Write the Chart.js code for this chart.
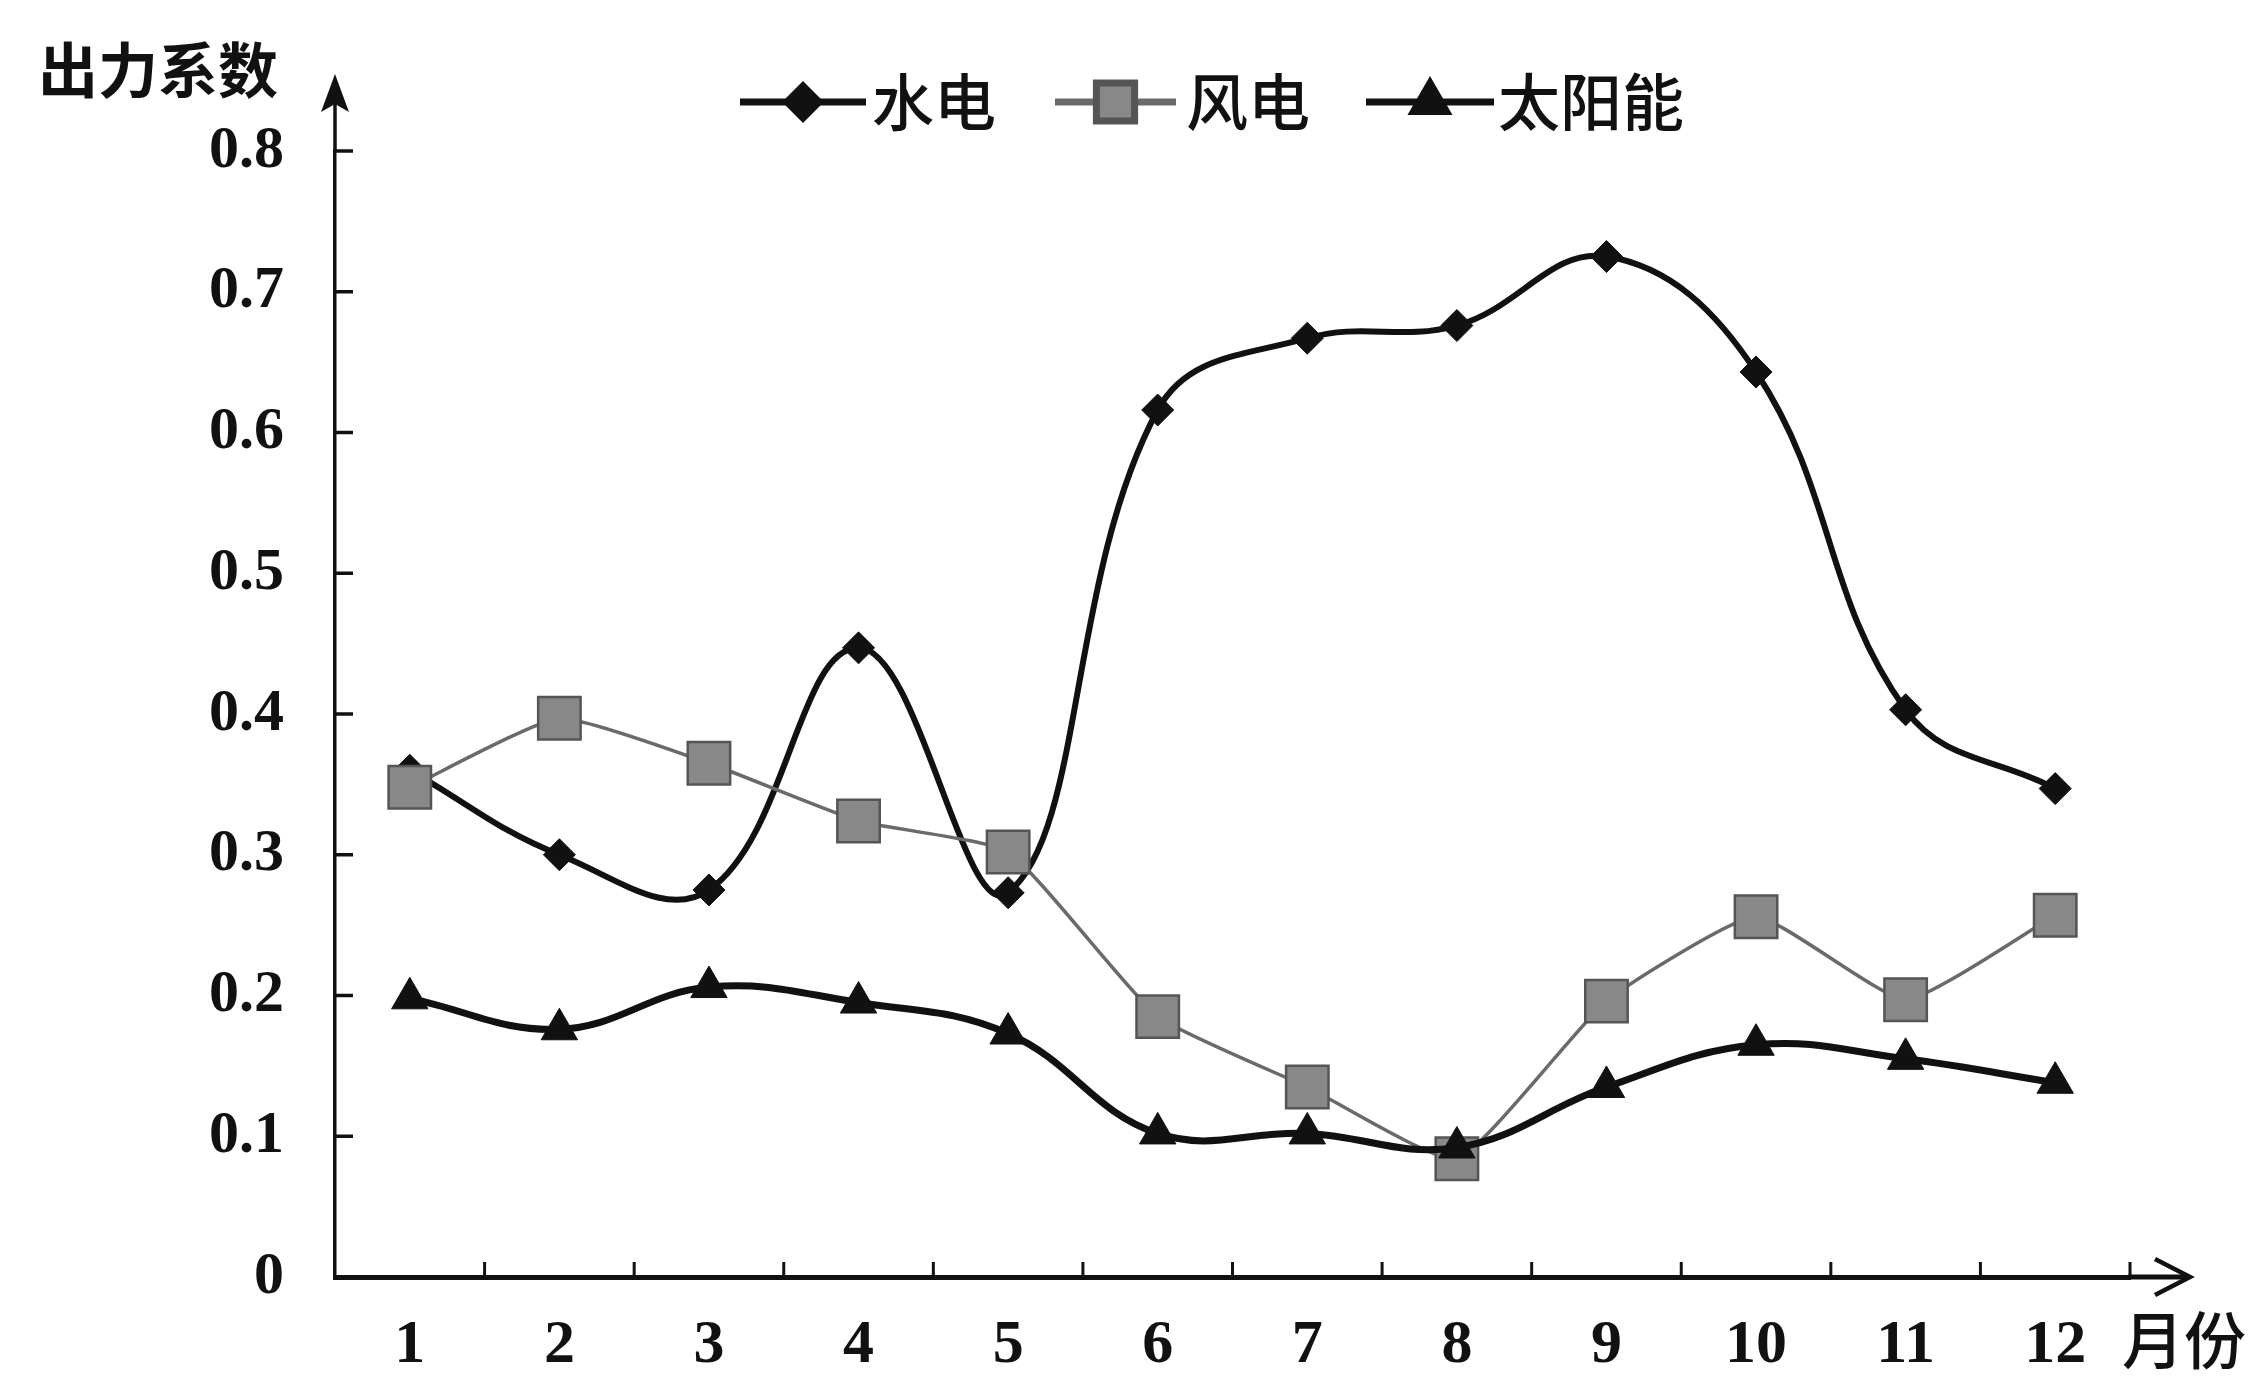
<!DOCTYPE html>
<html><head><meta charset="utf-8">
<script src="https://cdn.jsdelivr.net/npm/chart.js@4.4.1/dist/chart.umd.min.js"></script>
<style>html,body{margin:0;padding:0;background:#fff;overflow:hidden}</style>
</head><body>
<canvas id="c" width="2258" height="1380" style="width:2258px;height:1380px;display:block"></canvas>
<script>
// ---- data ----
const months = ['1','2','3','4','5','6','7','8','9','10','11','12'];
const hydro  = [0.36, 0.30, 0.275, 0.447, 0.273, 0.616, 0.667, 0.676, 0.725, 0.643, 0.403, 0.347];
const wind   = [0.348, 0.397, 0.365, 0.324, 0.302, 0.185, 0.135, 0.084, 0.196, 0.256, 0.197, 0.257];
const solar  = [0.198, 0.176, 0.206, 0.195, 0.173, 0.102, 0.102, 0.092, 0.135, 0.165, 0.155, 0.138];
const yTickValues = [0, 0.1, 0.2, 0.3, 0.4, 0.5, 0.6, 0.7, 0.8];
const seriesNames = ['水电', '风电', '太阳能'];
const yTitle = '出力系数';
const xTitle = '月份';

const NUM_FONT = '"Liberation Serif", "DejaVu Serif", serif';
const CJK_FONT = '"Noto Sans CJK SC", "Noto Sans", sans-serif';

const decor = {
  id: 'decor',
  afterDraw(chart) {
    const ctx = chart.ctx;
    const ca = chart.chartArea;
    const xs = chart.scales.x, ys = chart.scales.y;
    ctx.save();
    ctx.strokeStyle = '#111'; ctx.fillStyle = '#111';
    // y axis extension + arrow
    const ax = ca.left, ay = ca.bottom;
    ctx.lineWidth = 3.5;
    ctx.beginPath(); ctx.moveTo(ax, ca.top); ctx.lineTo(ax, 100); ctx.stroke();
    ctx.beginPath();
    ctx.moveTo(ax, 74); ctx.lineTo(ax + 14, 112); ctx.lineTo(ax, 104); ctx.lineTo(ax - 14, 112); ctx.closePath(); ctx.fill();
    // x axis extension + arrow
    ctx.lineWidth = 5;
    ctx.beginPath(); ctx.moveTo(ca.right - 2, ay); ctx.lineTo(2188, ay); ctx.stroke();
    ctx.lineWidth = 4.5;
    ctx.beginPath(); ctx.moveTo(2155, ay - 18); ctx.lineTo(2190, ay); ctx.lineTo(2155, ay + 18); ctx.stroke();
    // y ticks (inward)
    ctx.lineWidth = 3.5;
    yTickValues.forEach(v => {
      if (v === 0) return;
      const py = ys.getPixelForValue(v);
      ctx.beginPath(); ctx.moveTo(ax, py); ctx.lineTo(ax + 18, py); ctx.stroke();
    });
    // x ticks (between categories, inward)
    ctx.lineWidth = 3;
    const half = (xs.getPixelForTick(1) - xs.getPixelForTick(0)) / 2;
    for (let i = 0; i < months.length; i++) {
      const px = xs.getPixelForTick(i) + half;
      ctx.beginPath(); ctx.moveTo(px, ay); ctx.lineTo(px, ay - 15); ctx.stroke();
    }
    // titles
    ctx.textBaseline = 'middle';
    ctx.textAlign = 'center';
    ctx.font = 'bold 60px ' + CJK_FONT;
    ctx.fillText(yTitle, 158, 70);
    ctx.textAlign = 'left';
    ctx.font = '500 62px ' + CJK_FONT;
    ctx.fillText(xTitle, 2122, 1340);
    // legend
    const legendItems = [
      {x0: 740, x1: 866, tx: 872},
      {x0: 1055, x1: 1176, tx: 1186},
      {x0: 1366, x1: 1494, tx: 1498}
    ];
    const ly = 102;
    chart.data.datasets.forEach((ds, i) => {
      const it = legendItems[i];
      ctx.strokeStyle = ds.borderColor;
      ctx.lineWidth = ds.legendLineWidth;
      ctx.beginPath(); ctx.moveTo(it.x0, ly); ctx.lineTo(it.x1, ly); ctx.stroke();
      ctx.fillStyle = ds.pointBackgroundColor;
      ctx.strokeStyle = ds.pointBorderColor;
      Chart.helpers.drawPoint(ctx, {pointStyle: ds.pointStyle, radius: ds.legendRadius, borderWidth: ds.pointBorderWidth, rotation: 0}, (it.x0 + it.x1) / 2, ly);
      ctx.fillStyle = '#111';
      ctx.font = '500 62px ' + CJK_FONT;
      ctx.textAlign = 'left';
      ctx.fillText(ds.label, it.tx, ly);
    });
    ctx.restore();
  }
};

new Chart(document.getElementById('c'), {
  type: 'line',
  data: {
    labels: months,
    datasets: [
      {
        label: seriesNames[0], data: hydro, order: 2,
        borderColor: '#111', borderWidth: 6, tension: 0.4,
        pointStyle: 'rectRot', pointRadius: 16, pointBackgroundColor: '#111',
        pointBorderColor: '#111', pointBorderWidth: 1, legendRadius: 16, legendLineWidth: 7
      },
      {
        label: seriesNames[1], data: wind, order: 1,
        borderColor: '#6a6a6a', borderWidth: 3.5, tension: 0.15,
        pointStyle: 'rect', pointRadius: 30, pointBackgroundColor: '#888888',
        pointBorderColor: '#555555', pointBorderWidth: 2.5, legendRadius: 27, legendLineWidth: 7
      },
      {
        label: seriesNames[2], data: solar, order: 0,
        borderColor: '#111', borderWidth: 7, tension: 0.4,
        pointStyle: 'triangle', pointRadius: 21, pointBackgroundColor: '#111',
        pointBorderColor: '#111', pointBorderWidth: 1, legendRadius: 19, legendLineWidth: 7
      }
    ]
  },
  options: {
    responsive: false,
    animation: false,
    devicePixelRatio: 1,
    layout: { padding: { left: 0, right: 128, top: 151, bottom: 0 } },
    plugins: { legend: { display: false }, tooltip: { enabled: false } },
    scales: {
      x: {
        type: 'category',
        offset: true,
        grid: { display: false, offset: true },
        border: { display: true, color: '#111', width: 5 },
        ticks: { color: '#111', font: { family: NUM_FONT, size: 62, weight: 'bold' }, padding: 24, maxRotation: 0, autoSkip: false },
        afterFit(s) { s.height = 103; }
      },
      y: {
        min: 0, max: 0.8,
        grid: { display: false },
        border: { display: true, color: '#111', width: 3.5 },
        afterBuildTicks(s) { s.ticks = yTickValues.map(v => ({ value: v })); },
        ticks: { color: '#111', font: { family: NUM_FONT, size: 60, weight: 'bold' }, padding: 43,
          callback: v => String(+v.toFixed(1)) },
        afterFit(s) { s.width = 335; }
      }
    }
  },
  plugins: [decor]
});
</script>
</body></html>
